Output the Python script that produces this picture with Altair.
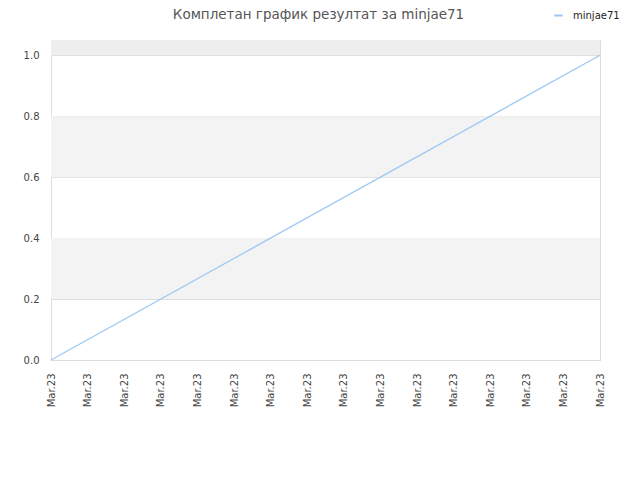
import altair as alt
import pandas as pd

series_name = "minjae71"
x_index = [0, 15]
y_values = [0.0, 1.0]
tick_positions = list(range(16))
tick_label = "Mar.23"
band_lo = [0.2, 0.6, 1.0]
band_hi = [0.4, 0.8, 1.05]
band_col = ["#f3f3f3", "#f3f3f3", "#eeeeee"]

line_df = pd.DataFrame({"x": x_index, "y": y_values, "s": [series_name] * len(x_index)})
band_df = pd.DataFrame({"lo": band_lo, "hi": band_hi, "c": band_col})

xscale = alt.Scale(domain=[0, 15], nice=False, zero=False)
yscale = alt.Scale(domain=[0, 1.05], nice=False)

bands = alt.Chart(band_df).mark_rect().encode(
    y=alt.Y("lo:Q", scale=yscale),
    y2="hi:Q",
    color=alt.Color("c:N", scale=None),
    x=alt.value(0),
    x2=alt.value(549),
)

line = alt.Chart(line_df).mark_line(strokeWidth=1.2).encode(
    x=alt.X("x:Q", scale=xscale,
            axis=alt.Axis(values=tick_positions, labelExpr=f"'{tick_label}'", labelAngle=270,
                          title=None, grid=False, ticks=False, domainColor="#dddddd",
                          labelColor="#444444", labelFontSize=10, labelFont="DejaVu Sans",
                          labelPadding=13, labelAlign="right", labelBaseline="middle")),
    y=alt.Y("y:Q", scale=yscale,
            axis=alt.Axis(values=[0, 0.2, 0.4, 0.6, 0.8, 1.0], format=".1f", title=None,
                          gridColor="#dddddd", ticks=False, domainColor="#dddddd",
                          labelColor="#444444", labelFontSize=10, labelFont="DejaVu Sans",
                          labelPadding=12)),
    color=alt.Color("s:N", scale=alt.Scale(range=["#99c8f5"]),
                    legend=alt.Legend(title=None, orient="none", legendX=502, legendY=-30,
                                      symbolType="stroke", symbolStrokeWidth=2, symbolSize=70,
                                      labelOffset=9,
                                      labelFont="DejaVu Sans", labelFontSize=10,
                                      labelColor="#222222")),
)

chart = alt.layer(bands, line).properties(
    width=549, height=320,
    title=alt.TitleParams("Комплетан график резултат за minjae71", font="DejaVu Sans",
                          fontSize=13.5, fontWeight="normal", color="#555555", anchor="middle",
                          offset=-11, dx=-7),
    autosize=alt.AutoSizeParams(type="none"),
    padding={"left": 43, "top": 32, "right": 32, "bottom": 112},
).configure_view(stroke="#dddddd")

chart.save("out.html", embed_options={"renderer": "svg", "actions": False})
